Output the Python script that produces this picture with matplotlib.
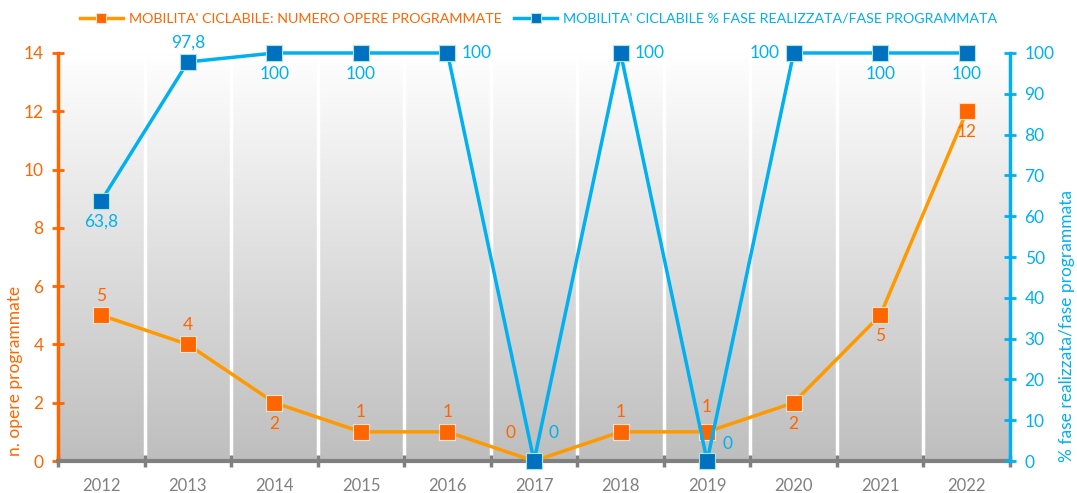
import numpy as np
import matplotlib.pyplot as plt
from matplotlib.colors import LinearSegmentedColormap

plt.rcParams['font.family'] = ['Lato', 'DejaVu Sans']

years = ['2012', '2013', '2014', '2015', '2016', '2017', '2018', '2019', '2020', '2021', '2022']
opere = [5, 4, 2, 1, 1, 0, 1, 1, 2, 5, 12]
perc = [63.8, 97.8, 100, 100, 100, 0, 100, 0, 100, 100, 100]
opere_lbl = ['5', '4', '2', '1', '1', '0', '1', '1', '2', '5', '12']
perc_lbl = ['63,8', '97,8', '100', '100', '100', '0', '100', '0', '100', '100', '100']
# label placement (offset in points) for each point
opere_off = [(0, 14), (0, 14), (0, -15), (0, 14), (0, 14), (-17, 20), (0, 14), (0, 18), (0, -15), (0, -15), (0, -15)]
perc_off = [(0, -15), (0, 14), (0, -15), (0, -15), (21, 0), (14, 20), (21, 0), (15, 12), (-21, 0), (0, -15), (0, -15)]

ORANGE = '#FF6600'
ORANGE_LINE = '#FF9900'
BLUE = '#00B0F0'
BLUE_MK = '#0070C0'
GREY = '#808080'

fig = plt.figure(figsize=(10.77, 4.93), dpi=100)
ax1 = fig.add_axes([0.0539, 0.0649, 0.8839, 0.8276])
ax2 = ax1.twinx()

x = np.arange(len(years))
n = len(years)

# gradient background, white at top to grey at bottom
cmap = LinearSegmentedColormap.from_list('bg', ['#ffffff', '#bebebe'])
grad = np.linspace(1, 0, 256).reshape(-1, 1)
ax1.imshow(grad, extent=(-0.5, n - 0.5, 0, 14), origin='lower', aspect='auto', cmap=cmap, zorder=0)
for b in np.arange(0.5, n - 0.5, 1):
    ax1.axvline(b, color='white', lw=2.5, zorder=1)
ax1.set_xlim(-0.5, n - 0.5)
ax1.set_ylim(0, 14)
ax2.set_ylim(0, 100)

l1, = ax1.plot(x, opere, color=ORANGE_LINE, lw=2.5, marker='s', ms=11,
               mfc=ORANGE, mec='#ffe0c8', mew=0.8, zorder=3, clip_on=False,
               label="MOBILITA' CICLABILE: NUMERO OPERE PROGRAMMATE")
l2, = ax2.plot(x, perc, color=BLUE, lw=2.5, marker='s', ms=11,
               mfc=BLUE_MK, mec='#a8e8d8', mew=0.8, zorder=3, clip_on=False,
               label="MOBILITA' CICLABILE % FASE REALIZZATA/FASE PROGRAMMATA")

for xi, v, t, off in zip(x, opere, opere_lbl, opere_off):
    ax1.annotate(t, (xi, v), xytext=off, textcoords='offset points',
                 ha='center', va='center', color=ORANGE, fontsize=12.5, zorder=4)
for xi, v, t, off in zip(x, perc, perc_lbl, perc_off):
    ax2.annotate(t, (xi, v), xytext=off, textcoords='offset points',
                 ha='center', va='center', color=BLUE, fontsize=12.5, zorder=4)

ax1.set_xticks(x)
ax1.set_xticklabels(years)
ax1.set_xticks(np.arange(-0.5, n, 1), minor=True)
ax1.tick_params(axis='x', which='major', length=0, pad=12, labelsize=12, labelcolor=GREY)
ax1.tick_params(axis='x', which='minor', direction='inout', length=8, width=2.5, color=GREY)

ax1.set_yticks(np.arange(0, 15, 2))
ax1.tick_params(axis='y', direction='inout', length=9, width=2, color=ORANGE,
                labelcolor=ORANGE, labelsize=12.5, pad=6)
ax2.set_yticks(np.arange(0, 101, 10))
ax2.tick_params(axis='y', direction='inout', length=9, width=2, color=BLUE,
                labelcolor=BLUE, labelsize=12.5, pad=6)

for ax in (ax1, ax2):
    for s in ax.spines.values():
        s.set_visible(False)
ax1.spines['left'].set_visible(True)
ax1.spines['left'].set_color(ORANGE)
ax1.spines['left'].set_linewidth(2.5)
ax1.spines['bottom'].set_visible(True)
ax1.spines['bottom'].set_color(GREY)
ax1.spines['bottom'].set_linewidth(3)
ax2.spines['right'].set_visible(True)
ax2.spines['right'].set_color(BLUE)
ax2.spines['right'].set_linewidth(2.5)

ax1.set_ylabel('n. opere programmate', color=ORANGE, fontsize=12.5)
ax1.yaxis.set_label_coords(-0.037, 0.22)
ax2.set_ylabel('% fase realizzata/fase programmata', color=BLUE, fontsize=12.5)
ax2.yaxis.set_label_coords(1.051, 0.33)

leg = fig.legend(handles=[l1, l2], loc='upper center', bbox_to_anchor=(0.5, 1.0),
                 ncol=2, frameon=False, fontsize=10.3, handlelength=3, columnspacing=0.9,
                 handletextpad=0.4)
for t, c in zip(leg.get_texts(), [ORANGE, BLUE]):
    t.set_color(c)
for h in leg.legend_handles:
    h.set_markersize(7)

fig.savefig('out.png', dpi=100)
